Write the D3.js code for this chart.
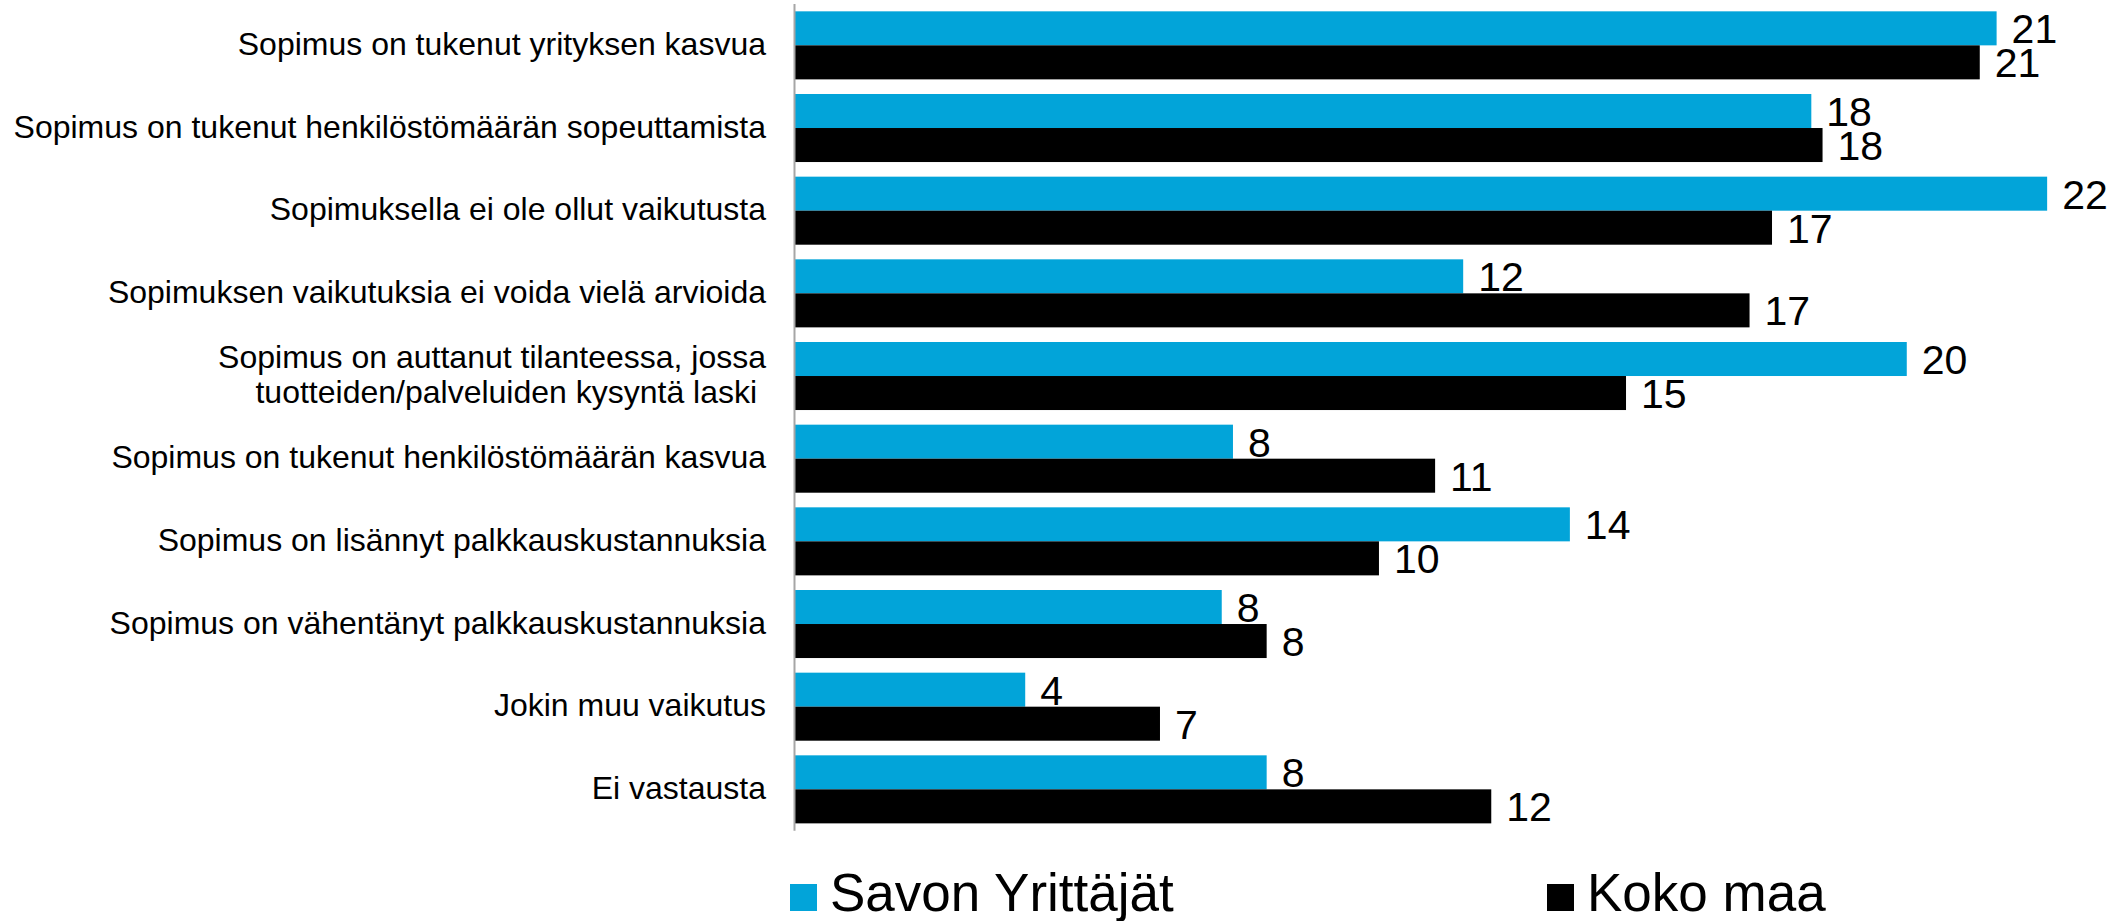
<!DOCTYPE html>
<html>
<head>
<meta charset="utf-8">
<script src="https://cdn.jsdelivr.net/npm/d3@7"></script>
<style>
    body { margin: 0; background: #fff; }
    svg { display: block; font-family: "Liberation Sans", Arial, sans-serif; }
    .cat-label { font-size: 32px; fill: #000; white-space: pre; }
    .value-label { font-size: 41px; fill: #000; }
    .legend-label { font-size: 53px; fill: #000; }
</style>
</head>
<body>
<script>
// Categories, top to bottom. Multi-line labels are split with "\n".
var categories = [
    "Sopimus on tukenut yrityksen kasvua",
    "Sopimus on tukenut henkilöstömäärän sopeuttamista",
    "Sopimuksella ei ole ollut vaikutusta",
    "Sopimuksen vaikutuksia ei voida vielä arvioida",
    "Sopimus on auttanut tilanteessa, jossa\ntuotteiden/palveluiden kysyntä laski ",
    "Sopimus on tukenut henkilöstömäärän kasvua",
    "Sopimus on lisännyt palkkauskustannuksia",
    "Sopimus on vähentänyt palkkauskustannuksia",
    "Jokin muu vaikutus",
    "Ei vastausta"
];
var seriesNames = ["Savon Yrittäjät", "Koko maa"];
var savonValues = [21.4, 18.1, 22.3, 11.9, 19.8, 7.8, 13.8, 7.6, 4.1, 8.4];
var kokoMaaValues = [21.1, 18.3, 17.4, 17.0, 14.8, 11.4, 10.4, 8.4, 6.5, 12.4];
var colors = ["#02A4D9", "#000000"];

var W = 2126, H = 921;
var AXIS_X = 795;

var svg = d3.select("body").append("svg")
    .attr("width", W)
    .attr("height", H);

var x = d3.scaleLinear()
    .domain([0, 23.5])
    .range([AXIS_X, AXIS_X + 23.5 * 56.15]);

var y = d3.scaleBand()
    .domain(categories)
    .range([4, 830.7])
    .paddingInner(0.177)
    .paddingOuter(0.0887);

var ySub = d3.scaleBand()
    .domain(seriesNames)
    .range([0, y.bandwidth()]);

var rows = categories.map(function(c, i) {
    return { cat: c, values: [savonValues[i], kokoMaaValues[i]] };
});

drawBars();
drawAxis();
drawCategoryLabels();
drawLegend();

/**
 * Draws the paired bars and their value labels.
 */
function drawBars() {
    var groups = svg.append("g").selectAll("g")
        .data(rows)
        .join("g")
        .attr("transform", function(d) { return "translate(0," + y(d.cat) + ")"; });

    var cells = groups.selectAll("g")
        .data(function(d) {
            return d.values.map(function(v, k) { return { name: seriesNames[k], value: v, k: k }; });
        })
        .join("g");

    cells.append("rect")
        .attr("x", x(0))
        .attr("y", function(d) { return ySub(d.name); })
        .attr("width", function(d) { return x(d.value) - x(0); })
        .attr("height", ySub.bandwidth())
        .attr("fill", function(d) { return colors[d.k]; });

    cells.append("text")
        .classed("value-label", true)
        .attr("x", function(d) { return x(d.value) + 15; })
        .attr("y", function(d) { return ySub(d.name) + ySub.bandwidth() / 2 + 15; })
        .text(function(d) { return d3.format(".0f")(d.value); });
}

function drawAxis() {
    svg.append("line")
        .attr("x1", AXIS_X - 0.5)
        .attr("x2", AXIS_X - 0.5)
        .attr("y1", y.range()[0])
        .attr("y2", y.range()[1])
        .attr("stroke", "#A6A6A6")
        .attr("stroke-width", 2);
}

function drawCategoryLabels() {
    var lineH = 34.5;
    var labels = svg.append("g").selectAll("text")
        .data(categories)
        .join("text")
        .classed("cat-label", true)
        .attr("text-anchor", "end")
        .attr("transform", function(d) {
            var n = d.split("\n").length;
            var cy = y(d) + y.bandwidth() / 2 + 9.5 - (n - 1) * lineH / 2;
            return "translate(766," + cy + ")";
        });

    labels.selectAll("tspan")
        .data(function(d) { return d.split("\n"); })
        .join("tspan")
        .attr("x", 0)
        .attr("dy", function(d, i) { return i ? lineH : 0; })
        .text(function(d) { return d; });
}

function drawLegend() {
    var items = [
        { name: seriesNames[0], color: colors[0], x: 790 },
        { name: seriesNames[1], color: colors[1], x: 1547 }
    ];
    var g = svg.append("g").selectAll("g")
        .data(items)
        .join("g")
        .attr("transform", function(d) { return "translate(" + d.x + ",884)"; });

    g.append("rect")
        .attr("width", 27)
        .attr("height", 27)
        .attr("fill", function(d) { return d.color; });

    g.append("text")
        .classed("legend-label", true)
        .attr("x", 40)
        .attr("y", 27)
        .text(function(d) { return d.name; });
}
</script>
</body>
</html>
